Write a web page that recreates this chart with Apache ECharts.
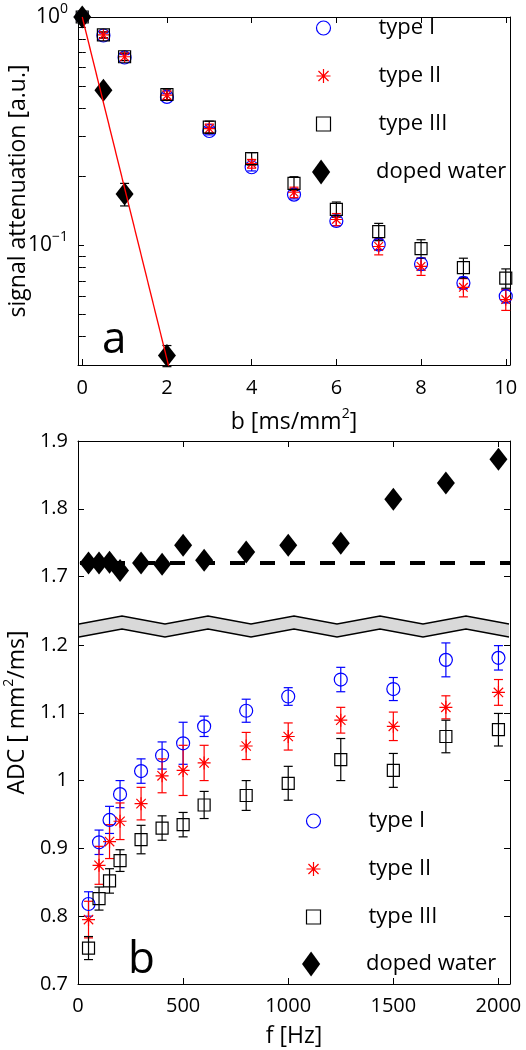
<!DOCTYPE html>
<html><head><meta charset="utf-8">
<script src="https://cdn.jsdelivr.net/npm/echarts@6/dist/echarts.min.js"></script>
<style>html,body{margin:0;padding:0;background:#fff}#c{width:526px;height:1050px}</style>
</head><body><div id="c"></div>
<script>
// ---------------- data (panel a: signal attenuation vs b) ----------------
const bValues      = [0, 0.5, 1, 2, 3, 4, 5, 6, 7, 8, 9, 10];
const attTypeI     = [1.0, 0.830, 0.665, 0.447, 0.317, 0.220, 0.167, 0.128, 0.101, 0.083, 0.0686, 0.060];
const attTypeII    = [1.0, 0.835, 0.670, 0.455, 0.325, 0.228, 0.171, 0.130, 0.099, 0.081, 0.0656, 0.058];
const attTypeIII   = [1.0, 0.835, 0.670, 0.458, 0.330, 0.240, 0.187, 0.144, 0.115, 0.097, 0.080, 0.072];
const attErrI      = [0.01, 0.02, 0.02, 0.015, 0.012, 0.008, 0.007, 0.006, 0.005, 0.005, 0.004, 0.004];
const attErrII     = [0.01, 0.025, 0.025, 0.02, 0.015, 0.01, 0.009, 0.008, 0.008, 0.007, 0.006, 0.006];
const attErrIII    = [0.01, 0.025, 0.025, 0.025, 0.02, 0.015, 0.013, 0.011, 0.01, 0.009, 0.008, 0.007];
const waterB       = [0, 0.5, 1, 2];
const attWater     = [1.0, 0.478, 0.168, 0.033];
const attErrWater  = [0.02, 0.02, 0.019, 0.0035];
const fitB         = [0, 2.04];
const fitAtt       = [1.0, 0.0297];

// ---------------- data (panel b: ADC vs f) ----------------
const fValues   = [50, 100, 150, 200, 300, 400, 500, 600, 800, 1000, 1250, 1500, 1750, 2000];
const adcTypeI  = [0.818, 0.909, 0.942, 0.980, 1.014, 1.037, 1.055, 1.080, 1.103, 1.124, 1.149, 1.135, 1.178, 1.181];
const errTypeI  = [0.018, 0.018, 0.020, 0.020, 0.018, 0.020, 0.031, 0.015, 0.017, 0.013, 0.018, 0.017, 0.025, 0.018];
const adcTypeII = [0.795, 0.875, 0.910, 0.940, 0.966, 1.007, 1.015, 1.026, 1.051, 1.065, 1.089, 1.080, 1.108, 1.130];
const errTypeII = [0.027, 0.028, 0.025, 0.027, 0.024, 0.025, 0.037, 0.026, 0.020, 0.020, 0.019, 0.021, 0.017, 0.019];
const adcTypeIII= [0.753, 0.826, 0.852, 0.882, 0.913, 0.930, 0.935, 0.964, 0.978, 0.996, 1.031, 1.015, 1.065, 1.075];
const errTypeIII= [0.017, 0.017, 0.018, 0.016, 0.021, 0.018, 0.018, 0.020, 0.022, 0.025, 0.031, 0.025, 0.024, 0.024];
const adcWater  = [1.720, 1.720, 1.721, 1.709, 1.720, 1.718, 1.746, 1.724, 1.736, 1.746, 1.749, 1.814, 1.838, 1.873];
const waterADC  = 1.72;

// ---------------- ticks ----------------
const topXTicks      = [0, 2, 4, 6, 8, 10];
const topYTicks      = [0.1, 1];
const topYMinorTicks = [0.04, 0.05, 0.06, 0.07, 0.08, 0.09, 0.2, 0.3, 0.4, 0.5, 0.6, 0.7, 0.8, 0.9];
const botXTicks      = [0, 500, 1000, 1500, 2000];
const botYTicksLow   = [0.7, 0.8, 0.9, 1.0, 1.1, 1.2];
const botYTicksHigh  = [1.7, 1.8, 1.9];
const seriesNames    = ['type I', 'type II', 'type III', 'doped water'];

// ---------------- styling ----------------
const F = '"Open Sans", "Liberation Sans", sans-serif';
const BLUE = '#0000ff', RED = '#ff0000', BLK = '#000000';
const STAR = 'path://M0,-1L0,1M-1,0L1,0M-0.72,-0.72L0.72,0.72M-0.72,0.72L0.72,-0.72';
const SQUARE = 'path://M-1,-1L1,-1L1,1L-1,1Z';
const DIAMOND = 'path://M0,-11L8,0L0,11L-8,0Z';

const G = {left: 78, width: 432};
const gridTop = {left: G.left, width: G.width, top: 17, height: 348, outerBoundsMode: 'none', containLabel: false};
const gridHi  = {left: G.left, width: G.width, top: 441, height: 187, outerBoundsMode: 'none', containLabel: false};
const gridLo  = {left: G.left, width: G.width, top: 628, height: 356, outerBoundsMode: 'none', containLabel: false};
const gridAll = {left: G.left, width: G.width, top: 441, height: 543, outerBoundsMode: 'none', containLabel: false};

const lineSty = {color: BLK, width: 1};
function tickAxis(extra) {
  return Object.assign({
    splitLine: {show: false},
    axisLine: {show: true, onZero: false, lineStyle: lineSty},
    axisLabel: {show: false},
    nameMoveOverlap: false
  }, extra);
}
function ticks(vals, len) {
  return {show: true, inside: true, length: len || 6, lineStyle: lineSty, customValues: vals};
}
function labels(vals, extra) {
  return Object.assign({show: true, customValues: vals, fontSize: 20, fontFamily: F, color: BLK, margin: 10,
                        formatter: function (v) { return String(v); }}, extra || {});
}
const supRich = {
  n: {fontSize: 23, fontFamily: F, color: BLK, lineHeight: 30},
  s: {fontSize: 14, fontFamily: F, color: BLK, lineHeight: 12, verticalAlign: 'top'}
};

function pts(xs, ys) { return xs.map((x, i) => [x, ys[i]]); }
function errPts(xs, ys, es) { return xs.map((x, i) => [x, ys[i] - es[i], ys[i] + es[i]]); }
function errSeries(xi, yi, xs, ys, es, color) {
  return {
    type: 'custom', xAxisIndex: xi, yAxisIndex: yi, silent: true,
    data: errPts(xs, ys, es), encode: {x: 0, y: [1, 2]},
    renderItem: function (params, api) {
      const x = api.value(0);
      const p1 = api.coord([x, api.value(2)]);
      const p2 = api.coord([x, api.value(1)]);
      const w = 4.5;
      const st = {stroke: color, lineWidth: 1.2, fill: 'none'};
      return {type: 'group', children: [
        {type: 'line', shape: {x1: p1[0], y1: p1[1], x2: p2[0], y2: p2[1]}, style: st},
        {type: 'line', shape: {x1: p1[0] - w, y1: p1[1], x2: p1[0] + w, y2: p1[1]}, style: st},
        {type: 'line', shape: {x1: p2[0] - w, y1: p2[1], x2: p2[0] + w, y2: p2[1]}, style: st}
      ]};
    }
  };
}
function scat(name, xi, yi, data, symbol, size, itemStyle) {
  return {type: 'scatter', name: name, xAxisIndex: xi, yAxisIndex: yi, data: data,
          symbol: symbol, symbolSize: size, itemStyle: itemStyle, silent: true,
          emphasis: {disabled: true}};
}
const stI   = {color: 'none', borderColor: BLUE, borderWidth: 1.2, opacity: 1};
const stII  = {color: 'none', borderColor: RED, borderWidth: 1.2, opacity: 1};
const stIII = {color: 'none', borderColor: BLK, borderWidth: 1.2, opacity: 1};
const stW   = {color: BLK, borderWidth: 0, opacity: 1};

function legendItems() {
  return [
    {name: seriesNames[0], icon: 'circle', itemStyle: stI},
    {name: seriesNames[1], icon: STAR, itemStyle: stII},
    {name: seriesNames[2], icon: SQUARE, itemStyle: stIII}
  ];
}
const legText = {fontSize: 22, fontFamily: F, color: BLK, lineHeight: 26};
function legend(data, left, top, h) {
  return {data: data, orient: 'vertical', left: left, top: top, itemWidth: 100, itemHeight: h,
          itemGap: 22, padding: 0, selectedMode: false, textStyle: legText, symbolKeepAspect: true};
}

// zig-zag break band built from the lower/upper grid boundary
function breakBand() {
  const yB = gridLo.top, x0 = G.left + 1, span = G.width - 2, n = 10;
  const top = [], bot = [];
  for (let k = 0; k <= n; k++) {
    const x = x0 + k * span / n;
    const yt = (k % 2 === 0) ? yB - 4 : yB - 12;
    top.push([x, yt]); bot.push([x, yt + 13]);
  }
  return [
    {type: 'polygon', z: 100, shape: {points: top.concat(bot.slice().reverse())}, style: {fill: '#d9d9d9', stroke: 'none'}},
    {type: 'polyline', z: 101, shape: {points: top}, style: {stroke: BLK, lineWidth: 1.3, fill: 'none'}},
    {type: 'polyline', z: 101, shape: {points: bot}, style: {stroke: BLK, lineWidth: 1.3, fill: 'none'}}
  ];
}

const option = {
  animation: false,
  backgroundColor: '#fff',
  grid: [gridTop, gridHi, gridLo, gridAll],
  xAxis: [
    tickAxis({gridIndex: 0, type: 'value', position: 'bottom', min: -0.1, max: 10.1,
      axisTick: ticks(topXTicks), axisLabel: labels(topXTicks, {margin: 13}),
      name: '{n|b [ms/mm}{s|2}{n|]}', nameLocation: 'middle', nameGap: 42, nameTextStyle: {rich: supRich}}),
    tickAxis({gridIndex: 0, type: 'value', position: 'top', min: -0.1, max: 10.1, axisTick: ticks(topXTicks)}),
    tickAxis({gridIndex: 1, type: 'value', position: 'top', min: 0, max: 2055, axisTick: ticks(botXTicks)}),
    tickAxis({gridIndex: 2, type: 'value', position: 'bottom', min: 0, max: 2055,
      axisTick: ticks(botXTicks), axisLabel: labels(botXTicks, {margin: 12}),
      name: 'f [Hz]', nameLocation: 'middle', nameGap: 41,
      nameTextStyle: {fontSize: 23, fontFamily: F, color: BLK}}),
    {gridIndex: 3, type: 'value', show: false, min: 0, max: 1}
  ],
  yAxis: [
    tickAxis({gridIndex: 0, type: 'log', logBase: 10, position: 'left', min: 0.03, max: 1,
      axisTick: ticks(topYTicks),
      axisLabel: labels(topYTicks, {
        formatter: function (v) {
          const e = Math.round(Math.log10(v));
          return '{b|10}{s|' + (e < 0 ? '\u2212' + (-e) : e) + '}';
        },
        rich: {
          b: {fontSize: 21, fontFamily: F, color: BLK, lineHeight: 30},
          s: {fontSize: 14, fontFamily: F, color: BLK, lineHeight: 10, verticalAlign: 'top'}
        }
      }),
      name: 'signal attenuation [a.u.]', nameLocation: 'middle', nameGap: 48,
      nameTextStyle: {fontSize: 23, fontFamily: F, color: BLK}}),
    tickAxis({gridIndex: 0, type: 'log', logBase: 10, position: 'right', min: 0.03, max: 1, axisTick: ticks(topYTicks)}),
    tickAxis({gridIndex: 0, type: 'log', logBase: 10, position: 'left', min: 0.03, max: 1,
      axisLine: {show: false}, axisTick: ticks(topYMinorTicks, 3.5)}),
    tickAxis({gridIndex: 0, type: 'log', logBase: 10, position: 'right', min: 0.03, max: 1,
      axisLine: {show: false}, axisTick: ticks(topYMinorTicks, 3.5)}),
    tickAxis({gridIndex: 1, type: 'value', position: 'left', min: 1.624, max: 1.9,
      axisTick: ticks(botYTicksHigh), axisLabel: labels(botYTicksHigh)}),
    tickAxis({gridIndex: 1, type: 'value', position: 'right', min: 1.624, max: 1.9, axisTick: ticks(botYTicksHigh)}),
    tickAxis({gridIndex: 2, type: 'value', position: 'left', min: 0.7, max: 1.225,
      axisTick: ticks(botYTicksLow), axisLabel: labels(botYTicksLow)}),
    tickAxis({gridIndex: 2, type: 'value', position: 'right', min: 0.7, max: 1.225, axisTick: ticks(botYTicksLow)}),
    {gridIndex: 3, type: 'value', position: 'left', min: 0, max: 1, nameMoveOverlap: false,
      axisLine: {show: false}, axisTick: {show: false}, axisLabel: {show: false}, splitLine: {show: false},
      name: '{n|ADC [ mm}{s|2}{n|/ms]}', nameLocation: 'middle', nameGap: 46, nameTextStyle: {rich: supRich}}
  ],
  legend: [
    legend(legendItems(), 314, 15, 14),
    legend([{name: seriesNames[3], icon: DIAMOND, itemStyle: stW}], 312, 159, 25),
    legend(legendItems(), 304, 808, 14),
    legend([{name: seriesNames[3], icon: DIAMOND, itemStyle: stW}], 302, 951, 25)
  ],
  series: [
    // panel a
    scat(seriesNames[0], 0, 0, pts(bValues, attTypeI), 'circle', 13, stI),
    errSeries(0, 0, bValues, attTypeI, attErrI, BLUE),
    scat(seriesNames[1], 0, 0, pts(bValues, attTypeII), STAR, 12, stII),
    errSeries(0, 0, bValues, attTypeII, attErrII, RED),
    scat(seriesNames[2], 0, 0, pts(bValues, attTypeIII), SQUARE, 12, stIII),
    errSeries(0, 0, bValues, attTypeIII, attErrIII, BLK),
    scat(seriesNames[3], 0, 0, pts(waterB, attWater), 'diamond', [18, 23], stW),
    errSeries(0, 0, waterB, attWater, attErrWater, BLK),
    {type: 'line', xAxisIndex: 0, yAxisIndex: 0, data: pts(fitB, fitAtt), symbol: 'none', silent: true,
     lineStyle: {color: RED, width: 1.3}, z: 5},
    // panel b, lower part
    scat(seriesNames[0], 3, 6, pts(fValues, adcTypeI), 'circle', 13, stI),
    errSeries(3, 6, fValues, adcTypeI, errTypeI, BLUE),
    scat(seriesNames[1], 3, 6, pts(fValues, adcTypeII), STAR, 13, stII),
    errSeries(3, 6, fValues, adcTypeII, errTypeII, RED),
    scat(seriesNames[2], 3, 6, pts(fValues, adcTypeIII), SQUARE, 12, stIII),
    errSeries(3, 6, fValues, adcTypeIII, errTypeIII, BLK),
    // panel b, upper part
    Object.assign(scat(seriesNames[3], 2, 4, pts(fValues, adcWater), 'diamond', [18, 23], stW), {
      markLine: {silent: true, symbol: ['none', 'none'], label: {show: false}, z: 1,
        lineStyle: {color: BLK, width: 4, type: [15, 15], dashOffset: 28},
        data: [{yAxis: waterADC}]}
    })
  ],
  graphic: [
    {type: 'text', x: 102, y: 340, z: 50, style: {text: 'a', fontSize: 44, fontFamily: F, fill: BLK, verticalAlign: 'middle'}},
    {type: 'text', x: 128, y: 960, z: 50, style: {text: 'b', fontSize: 44, fontFamily: F, fill: BLK, verticalAlign: 'middle'}}
  ].concat(breakBand())
};

const chart = echarts.init(document.getElementById('c'), null, {renderer: 'canvas'});
chart.setOption(option);
</script>
</body></html>
